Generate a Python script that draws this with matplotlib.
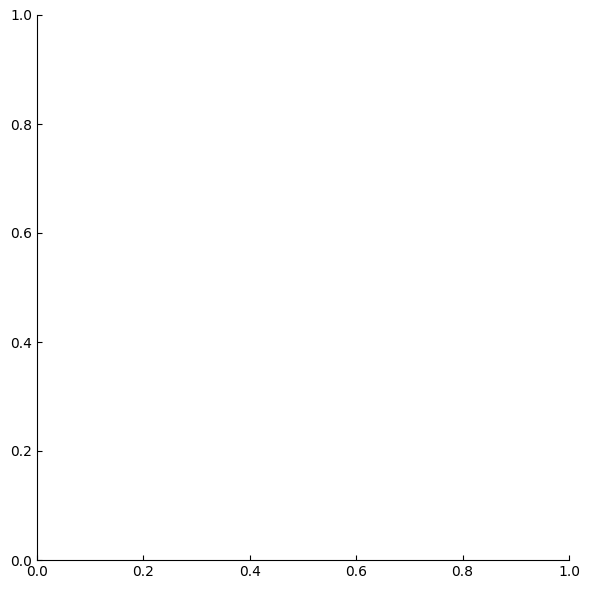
import matplotlib
matplotlib.use("Agg")
import matplotlib.pyplot as plt

# the reference shows an empty axes: no series at all
x_values = []
y_values = []

fig = plt.figure(figsize=(5.9, 5.89), dpi=100)
ax = fig.add_axes([37 / 590, 1 - 560 / 589, (569 - 37) / 590, (560 - 15) / 589])
ax.plot(x_values, y_values)
ax.set_xlim(0, 1)
ax.set_ylim(0, 1)

ax.spines["top"].set_visible(False)
ax.spines["right"].set_visible(False)
ax.tick_params(direction="in")

fig.savefig("out.png", dpi=100)
